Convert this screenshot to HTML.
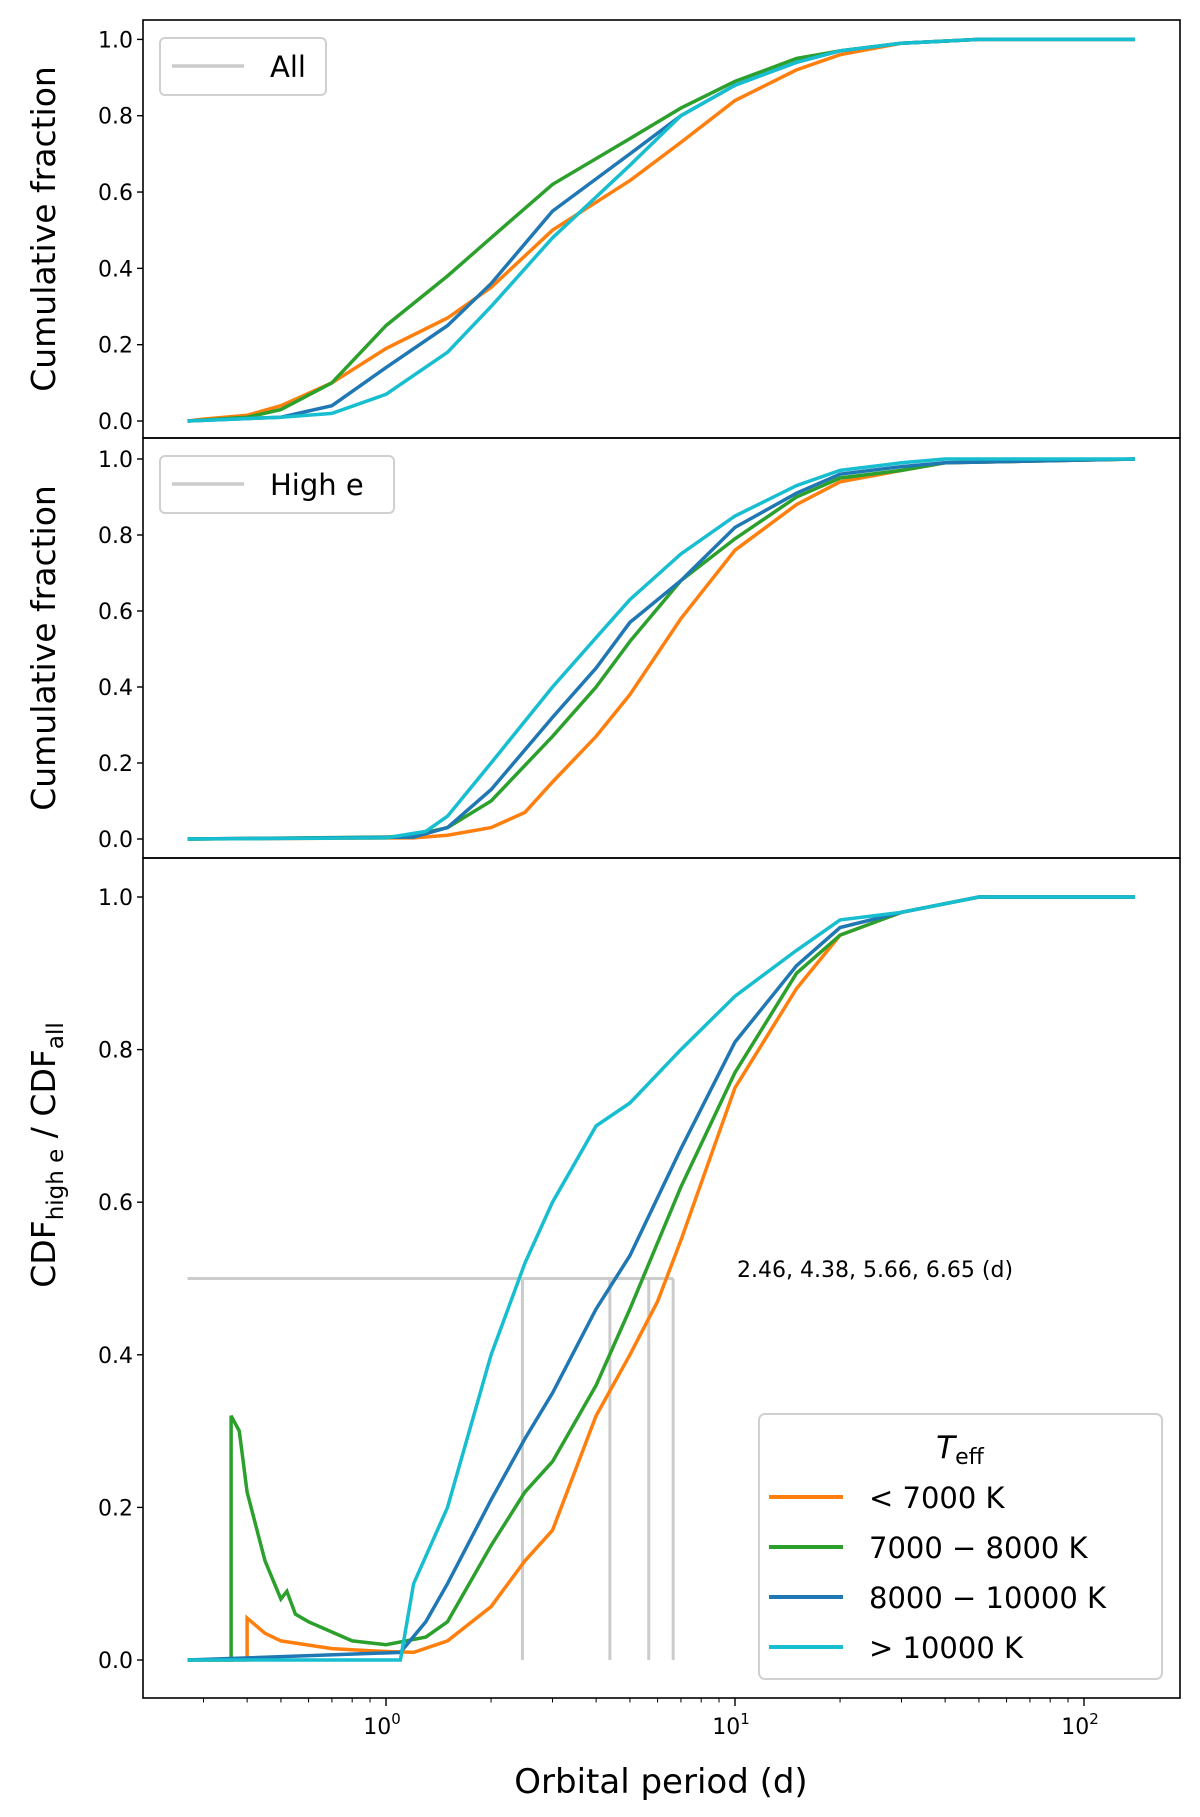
<!DOCTYPE html>
<html><head><meta charset="utf-8"><style>
html,body{margin:0;padding:0;background:#fff;}
svg{display:block;font-family:"DejaVu Sans","Liberation Sans",sans-serif;}
</style></head><body>
<svg id="chart" width="1200" height="1817" viewBox="0 0 1200 1817" xmlns="http://www.w3.org/2000/svg">
<g id="panels"></g>
</svg>
<script>
// ---- data ----
const seriesNames = ["< 7000 K", "7000 \u2212 8000 K", "8000 \u2212 10000 K", "> 10000 K"];
const seriesColors = ["#ff7f0e", "#2ca02c", "#1f77b4", "#17becf"];
const yTicks = [0, 0.2, 0.4, 0.6, 0.8, 1.0];
const yTickLabels = ["0.0", "0.2", "0.4", "0.6", "0.8", "1.0"];
const xDecades = [0, 1, 2];

// Panel 1: All
const allOrangeP = [0.27,0.3,0.4,0.5,0.7,1.0,1.5,2,3,5,7,10,15,20,30,50,140];
const allOrangeV = [0,0.005,0.015,0.04,0.10,0.19,0.27,0.35,0.50,0.63,0.73,0.84,0.92,0.96,0.99,1,1];
const allGreenP = [0.27,0.4,0.5,0.7,1.0,1.5,2,3,5,7,10,15,20,30,50,140];
const allGreenV = [0,0.01,0.03,0.10,0.25,0.38,0.48,0.62,0.74,0.82,0.89,0.95,0.97,0.99,1,1];
const allBlueP = [0.27,0.5,0.7,1.0,1.5,2,3,5,7,10,15,20,30,50,140];
const allBlueV = [0,0.01,0.04,0.14,0.25,0.36,0.55,0.70,0.80,0.88,0.94,0.97,0.99,1,1];
const allCyanP = [0.27,0.5,0.7,1.0,1.5,2,3,5,7,10,15,20,30,50,140];
const allCyanV = [0,0.01,0.02,0.07,0.18,0.30,0.48,0.67,0.80,0.88,0.94,0.97,0.99,1,1];

// Panel 2: High e
const hiOrangeP = [0.27,1.2,1.5,2,2.5,3,4,5,7,10,15,20,30,40,140];
const hiOrangeV = [0,0.003,0.01,0.03,0.07,0.15,0.27,0.38,0.58,0.76,0.88,0.94,0.97,0.99,1];
const hiGreenP = [0.27,1.0,1.2,1.5,2,3,4,5,7,10,15,20,30,40,140];
const hiGreenV = [0,0.005,0.01,0.03,0.10,0.27,0.40,0.52,0.68,0.79,0.90,0.95,0.97,0.99,1];
const hiBlueP = [0.27,1.2,1.5,2,3,4,5,7,10,15,20,30,40,140];
const hiBlueV = [0,0.005,0.03,0.13,0.32,0.45,0.57,0.68,0.82,0.91,0.96,0.98,0.99,1];
const hiCyanP = [0.27,1.0,1.3,1.5,2,3,4,5,7,10,15,20,30,40,140];
const hiCyanV = [0,0.003,0.02,0.06,0.20,0.40,0.53,0.63,0.75,0.85,0.93,0.97,0.99,1,1];

// Panel 3: ratio
const rOrangeP = [0.27,0.4,0.4,0.45,0.5,0.7,0.9,1.2,1.5,2,2.5,3,4,5,6,7,10,15,20,30,50,140];
const rOrangeV = [0,0,0.055,0.035,0.025,0.015,0.012,0.01,0.025,0.07,0.13,0.17,0.32,0.40,0.47,0.55,0.75,0.88,0.95,0.98,1,1];
const rGreenP = [0.27,0.36,0.36,0.38,0.4,0.45,0.5,0.52,0.55,0.6,0.8,1.0,1.3,1.5,2,2.5,3,4,5,7,10,15,20,30,50,140];
const rGreenV = [0,0,0.32,0.30,0.22,0.13,0.08,0.09,0.06,0.05,0.025,0.02,0.03,0.05,0.15,0.22,0.26,0.36,0.46,0.62,0.77,0.90,0.95,0.98,1,1];
const rBlueP = [0.27,1.1,1.3,1.5,2,2.5,3,4,5,7,10,15,20,30,50,140];
const rBlueV = [0,0.01,0.05,0.10,0.21,0.29,0.35,0.46,0.53,0.67,0.81,0.91,0.96,0.98,1,1];
const rCyanP = [0.27,1.1,1.2,1.5,2,2.5,3,4,5,7,10,15,20,30,50,140];
const rCyanV = [0,0,0.10,0.20,0.40,0.52,0.60,0.70,0.73,0.80,0.87,0.93,0.97,0.98,1,1];

const medianPeriods = [2.46, 4.38, 5.66, 6.65];
const medianLevel = 0.5;

// ---- layout ----
const NS = "http://www.w3.org/2000/svg";
const root = document.getElementById("panels");
const axL = 143, axR = 1180;
function xScale(p){ return 386 + 349 * Math.log10(p); }
const panels = [
  {top:20, bot:438, y0:421, y1:39.4, name:"all-panel", label:"Cumulative fraction", legend:"All", lw:166,
   series:[[allOrangeP,allOrangeV],[allGreenP,allGreenV],[allBlueP,allBlueV],[allCyanP,allCyanV]]},
  {top:438, bot:858, y0:839, y1:459, name:"high-e-panel", label:"Cumulative fraction", legend:"High e", lw:234,
   series:[[hiOrangeP,hiOrangeV],[hiGreenP,hiGreenV],[hiBlueP,hiBlueV],[hiCyanP,hiCyanV]]},
  {top:858, bot:1698, y0:1660, y1:897, name:"ratio-panel", label:null,
   series:[[rOrangeP,rOrangeV],[rGreenP,rGreenV],[rBlueP,rBlueV],[rCyanP,rCyanV]]}
];
function mk(tag, attrs, parent){ const e=document.createElementNS(NS,tag); for(const k in attrs) e.setAttribute(k,attrs[k]); (parent||root).appendChild(e); return e; }

panels.forEach((pn, pi) => {
  const g = mk("g", {});
  
  
  const ys = v => pn.y0 + (pn.y1 - pn.y0) * v;
  if (pi === 2) {
    const mg = mk("g", {stroke:"#cccccc","stroke-width":3,fill:"none"}, g);
    
    
    const pmax = medianPeriods[medianPeriods.length-1];
    const h = mk("line", {x1:xScale(0.27), x2:xScale(pmax), y1:ys(medianLevel), y2:ys(medianLevel)}, mg);
    
    
    medianPeriods.forEach(p => {
      const l = mk("line", {x1:xScale(p), x2:xScale(p), y1:ys(0), y2:ys(medianLevel)}, mg);
      
      
    });
    const t = mk("text", {x:737, y:1277, "font-size":22, fill:"#000", "xml:space":"preserve"}, g);
    t.textContent = "2.46,  4.38,  5.66,  6.65  (d)";
    
    
  }
  pn.series.forEach((s, si) => {
    const [P, V] = s;
    let d = "";
    for (let i=0;i<P.length;i++){
      const x = xScale(P[i]), y = ys(V[i]);
      d += (i===0 ? "M" : "L") + x.toFixed(1)+","+y.toFixed(1);
    }
    const path = mk("path", {d:d, fill:"none", stroke:seriesColors[si], "stroke-width":3.5, "stroke-linejoin":"miter"}, g);
    
    
  });
  const fr = mk("rect", {x:axL, y:pn.top, width:axR-axL, height:pn.bot-pn.top, fill:"none", stroke:"#000","stroke-width":1.6}, g);
  
  
  yTicks.forEach((v, i) => {
    const y = ys(v);
    const tl = mk("line", {x1:axL-6, x2:axL, y1:y, y2:y, stroke:"#000","stroke-width":1.4}, g);
    
    
    const tt = mk("text", {x:axL-10, y:y+8, "font-size":22, "text-anchor":"end", fill:"#000"}, g);
    tt.textContent = yTickLabels[i];
    
    
  });
  if (pn.label) {
    const cy = (pn.top + pn.bot)/2;
    const yl = mk("text", {x:0, y:0, "font-size":33, "text-anchor":"middle", fill:"#000", transform:"translate(55,"+cy+") rotate(-90)"}, g);
    yl.textContent = pn.label;
    
    
  } else {
    const yl = mk("text", {x:0, y:0, "font-size":33, "text-anchor":"middle", fill:"#000", transform:"translate(55,1155) rotate(-90)"}, g);
    yl.innerHTML = 'CDF<tspan font-size="23" dy="8">high e</tspan><tspan dy="-8"> / CDF</tspan><tspan font-size="23" dy="8">all</tspan>';
    
    
  }
  if (pn.legend) {
    const lg = mk("g", {}, g);
    
    
    const ly = pn.top + 18;
    mk("rect", {x:160, y:ly, width:pn.lw, height:57, rx:5, fill:"#fff", stroke:"#d0d0d0","stroke-width":2}, lg);
    mk("line", {x1:172, x2:244, y1:ly+28, y2:ly+28, stroke:"#cccccc","stroke-width":3.5}, lg);
    const lt = mk("text", {x:270, y:ly+39, "font-size":29, fill:"#000"}, lg);
    lt.textContent = pn.legend;
    
    
  }
});

const xg = mk("g", {});


for (let dec=-1; dec<=2; dec++){
  for (let m=1; m<10; m++){
    const p = m*Math.pow(10,dec);
    const x = xScale(p);
    if (x < axL || x > axR) continue;
    const major = m===1;
    const t = mk("line", {x1:x, x2:x, y1:1698, y2:1698+(major?8:4.5), stroke:"#000","stroke-width":major?1.4:1}, xg);
    
    
  }
}
xDecades.forEach(dc => {
  const x = xScale(Math.pow(10, dc));
  const t = mk("text", {x:x-4, y:1734, "font-size":22, "text-anchor":"middle", fill:"#000"}, xg);
  t.innerHTML = '10<tspan font-size="15" dy="-10">'+dc+'</tspan>';
  
  
});
const xl = mk("text", {x:661, y:1793, "font-size":34, "text-anchor":"middle", fill:"#000"}, xg);
xl.textContent = "Orbital period (d)";



const tg = mk("g", {});


mk("rect", {x:759, y:1414, width:403, height:265, rx:6, fill:"#fff", "fill-opacity":0.85, stroke:"#d0d0d0","stroke-width":2}, tg);
const tt = mk("text", {x:960, y:1458, "font-size":31, "text-anchor":"middle", fill:"#000"}, tg);
tt.innerHTML = '<tspan font-style="italic">T</tspan><tspan font-size="22" dy="6">eff</tspan>';


seriesNames.forEach((n, i) => {
  const y = 1497 + 50*i;
  const l = mk("line", {x1:769, x2:843, y1:y, y2:y, stroke:seriesColors[i], "stroke-width":4}, tg);
  
  
  const t = mk("text", {x:869, y:y+11, "font-size":29, fill:"#000"}, tg);
  t.textContent = n;
  
  
});
</script>
</body></html>
